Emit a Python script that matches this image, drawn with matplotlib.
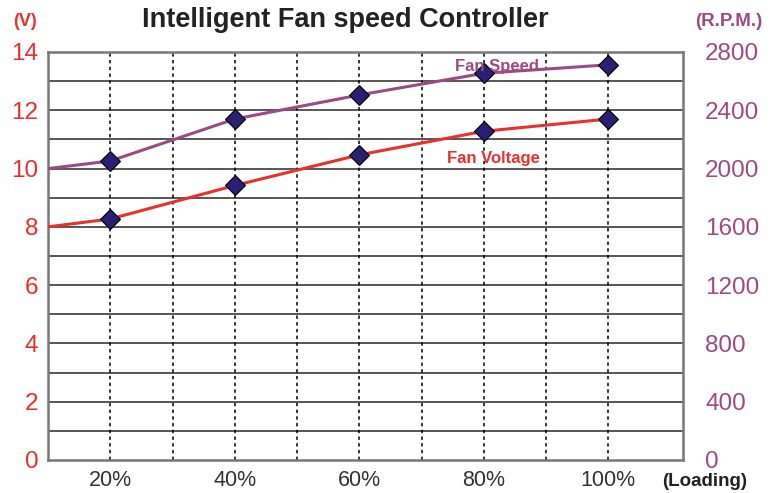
import numpy as np
import matplotlib
matplotlib.use("Agg")
import matplotlib.pyplot as plt

# -------
# Data
# -------

# loading in percent, first point sits on the left border of the frame
loading = [10, 20, 40, 60, 80, 100]
fan_voltage = [8.0, 8.27, 9.42, 10.47, 11.28, 11.70]
fan_speed = [2000, 2052, 2340, 2505, 2654, 2712]

x_ticks = [20, 40, 60, 80, 100]
x_tick_labels = ["20%", "40%", "60%", "80%", "100%"]
v_ticks = [0, 2, 4, 6, 8, 10, 12, 14]
rpm_ticks = [0, 400, 800, 1200, 1600, 2000, 2400, 2800]

# -------
# Style
# -------
red = "#e8302c"
purple = "#9c4a86"
marker_fill = "#2b1f74"
plt.rcParams["font.family"] = ["Liberation Sans", "DejaVu Sans"]

fig = plt.figure(figsize=(7.76, 4.93), dpi=100)
ax = fig.add_axes([48 / 776, 1 - 460 / 493, (683 - 48) / 776, (460 - 52) / 493])
ax2 = ax.twinx()

ax.set_xlim(10, 112)
ax.set_ylim(0, 14)
ax2.set_ylim(0, 2800)

# horizontal grid every 1 V, vertical dotted lines every 10%
for yv in np.arange(1, 14):
    ax.axhline(yv, color="#3a3a3a", lw=1.2, zorder=1)
for xv in np.arange(20, 101, 10):
    ax.axvline(xv, color="black", lw=1.1, ls=(0, (2.2, 2.2)), zorder=1)

for side in ["left", "right", "top", "bottom"]:
    ax.spines[side].set_color("#777777")
    ax.spines[side].set_linewidth(1.8)
    ax2.spines[side].set_visible(False)

# series
ax2.plot(loading, fan_speed, color=purple, lw=2.2, zorder=3)
ax2.plot(loading[1:], fan_speed[1:], ls="none", marker="D", ms=10,
         mfc=marker_fill, mec="black", mew=0.8, zorder=4)
ax.plot(loading, fan_voltage, color=red, lw=2.2, zorder=3)
ax.plot(loading[1:], fan_voltage[1:], ls="none", marker="D", ms=10,
        mfc=marker_fill, mec="black", mew=0.8, zorder=4)

# ticks
ax.set_yticks(v_ticks)
ax.tick_params(axis="y", length=0, pad=7, labelsize=17.5, labelcolor=red)
ax.set_xticks(x_ticks)
ax.set_xticklabels(x_tick_labels)
ax.tick_params(axis="x", length=0, pad=7, labelsize=15.5, labelcolor="#333333")
ax2.set_yticks(rpm_ticks)
ax2.tick_params(axis="y", length=0, pad=16, labelsize=17.5, labelcolor=purple)

# texts
fig.text(345 / 776, 1 - 20 / 493, "Intelligent Fan speed Controller",
         ha="center", va="center", fontsize=19.5, fontweight="bold", color="#222222")
fig.text(25 / 776, 1 - 21 / 493, "(V)", ha="center", va="center",
         fontsize=13, fontweight="bold", color=red)
fig.text(729 / 776, 1 - 21 / 493, "(R.P.M.)", ha="center", va="center",
         fontsize=13.5, fontweight="bold", color=purple)
fig.text(705 / 776, 1 - 482 / 493, "(Loading)", ha="center", va="center",
         fontsize=13.5, fontweight="bold", color="#222222")
fig.text(497 / 776, 1 - 66 / 493, "Fan Speed", ha="center", va="center",
         fontsize=12, fontweight="bold", color=purple, zorder=5)
fig.text(493 / 776, 1 - 158 / 493, "Fan Voltage", ha="center", va="center",
         fontsize=12, fontweight="bold", color=red, zorder=5)

fig.savefig("out.png", dpi=100)
